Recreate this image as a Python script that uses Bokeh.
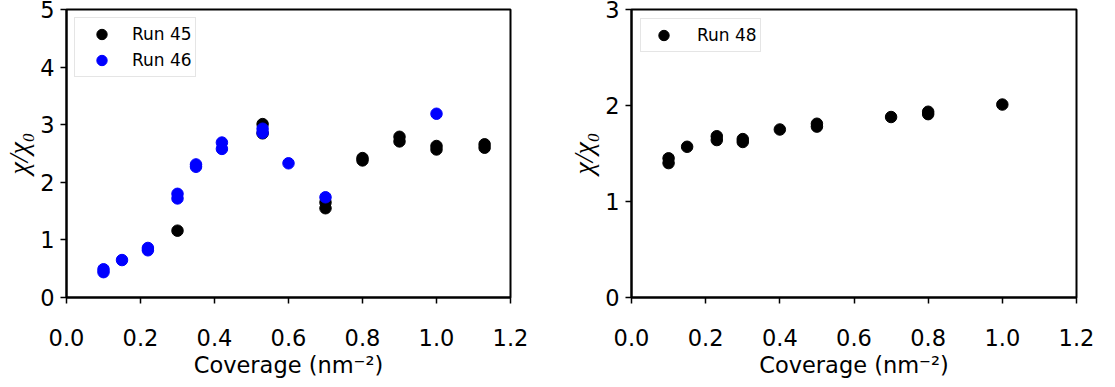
from bokeh.plotting import figure
from bokeh.layouts import row
from bokeh.models import Range1d, FixedTicker, PrintfTickFormatter, Legend, LegendItem
from bokeh.embed import file_html
from bokeh.resources import INLINE

# Susceptibility ratio vs. surface coverage
run45_x = [0.3, 0.53, 0.53, 0.7, 0.7, 0.8, 0.8, 0.9, 0.9, 1.0, 1.0, 1.13, 1.13]
run45_y = [1.16, 3.01, 2.85, 1.65, 1.55, 2.38, 2.42, 2.79, 2.71, 2.63, 2.57, 2.66, 2.60]

run46_x = [0.1, 0.1, 0.15, 0.22, 0.22, 0.3, 0.3, 0.35, 0.35, 0.42, 0.42, 0.53, 0.53, 0.6, 0.7, 1.0]
run46_y = [0.49, 0.44, 0.65, 0.86, 0.82, 1.80, 1.72, 2.31, 2.27, 2.69, 2.58, 2.93, 2.86, 2.33, 1.74, 3.19]

run48_x = [0.1, 0.1, 0.15, 0.23, 0.23, 0.3, 0.3, 0.4, 0.5, 0.5, 0.7, 0.8, 0.8, 1.0]
run48_y = [1.45, 1.40, 1.57, 1.68, 1.64, 1.65, 1.62, 1.75, 1.81, 1.78, 1.88, 1.935, 1.91, 2.01]

x_ticks = [0.0, 0.2, 0.4, 0.6, 0.8, 1.0, 1.2]
left_y_ticks = [0, 1, 2, 3, 4, 5]
right_y_ticks = [0, 1, 2, 3]

FONT = "DejaVu Sans"
TICK_SIZE = "22.5px"
MARKER = 11.5


def make_panel(width, ymax, yticks, border_left, border_right):
    p = figure(width=width, height=387, output_backend="svg", toolbar_location=None,
               x_range=Range1d(0, 1.2), y_range=Range1d(0, ymax),
               min_border_left=border_left, min_border_right=border_right,
               min_border_top=9, min_border_bottom=90)
    p.grid.visible = False
    p.outline_line_color = "black"
    p.outline_line_width = 2
    p.background_fill_color = "white"
    p.border_fill_color = "white"

    p.xaxis.ticker = FixedTicker(ticks=x_ticks)
    p.xaxis.formatter = PrintfTickFormatter(format="%.1f")
    p.yaxis.ticker = FixedTicker(ticks=yticks)
    p.yaxis.formatter = PrintfTickFormatter(format="%d")

    for ax in (p.xaxis, p.yaxis):
        ax.axis_line_width = 2
        ax.axis_line_color = "black"
        ax.major_tick_out = 6
        ax.major_tick_in = 0
        ax.major_tick_line_width = 1.5
        ax.minor_tick_out = 0
        ax.minor_tick_in = 0
        ax.major_label_text_font = FONT
        ax.major_label_text_font_size = TICK_SIZE
        ax.major_label_text_color = "black"
        ax.axis_label_text_color = "black"

    p.xaxis.major_label_standoff = 25
    p.yaxis.major_label_standoff = 6
    p.xaxis.axis_label = "Coverage (nm\u207b\u00b2)"
    p.xaxis.axis_label_text_font = FONT
    p.xaxis.axis_label_text_font_size = TICK_SIZE
    p.xaxis.axis_label_text_font_style = "normal"
    p.xaxis.axis_label_standoff = 3
    p.yaxis.axis_label = "\u03c7/\u03c7\u2080"
    p.yaxis.axis_label_text_font = "Liberation Serif"
    p.yaxis.axis_label_text_font_size = "28px"
    p.yaxis.axis_label_text_font_style = "italic"
    p.yaxis.axis_label_standoff = 3
    return p


def style_legend(legend, padding, glyph_width, standoff, margin):
    legend.location = "top_left"
    legend.margin = margin
    legend.padding = padding
    legend.spacing = 0
    legend.glyph_width = glyph_width
    legend.glyph_height = 26
    legend.label_height = 26
    legend.label_standoff = standoff
    legend.label_text_font = FONT
    legend.label_text_font_size = "17px"
    legend.label_text_color = "black"
    legend.border_line_color = "#cccccc"
    legend.border_line_width = 1
    legend.background_fill_alpha = 0.8


# Left panel: runs 45 and 46
p1 = make_panel(557, 5, left_y_ticks, 65, 47)
r45 = p1.scatter(run45_x, run45_y, size=MARKER, color="#000000")
r46 = p1.scatter(run46_x, run46_y, size=MARKER, color="#0000ff")
leg1 = Legend(items=[LegendItem(label="Run 45", renderers=[r45]),
                     LegendItem(label="Run 46", renderers=[r46])])
style_legend(leg1, 3, 47, 7, 8)
p1.add_layout(leg1, "center")

# Right panel: run 48
p2 = make_panel(558, 3, right_y_ticks, 74, 39)
r48 = p2.scatter(run48_x, run48_y, size=MARKER, color="#000000")
leg2 = Legend(items=[LegendItem(label="Run 48", renderers=[r48])])
style_legend(leg2, 3, 39, 14, 9)
p2.add_layout(leg2, "center")

layout = row(p1, p2)
open("out.html", "w").write(file_html(layout, INLINE))
